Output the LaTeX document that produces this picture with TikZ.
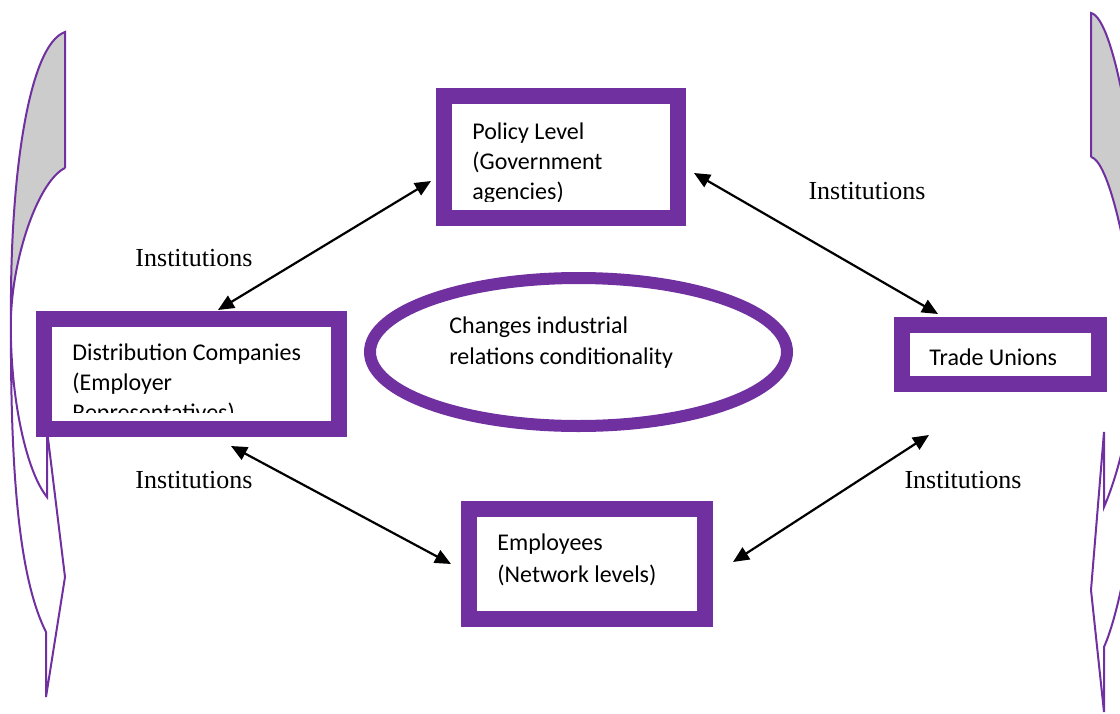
\documentclass[tikz,border=0pt]{standalone}
\usepackage{fontspec}
\setmainfont{Liberation Serif}
\newfontfamily\calfont{Carlito}
\usetikzlibrary{arrows.meta,shapes.geometric}
\definecolor{wpurple}{HTML}{7030A0}
\begin{document}
\begin{tikzpicture}[x=0.5pt,y=-0.5pt,
  box/.style={draw=wpurple, line width=8pt, fill=white, inner sep=0pt},
  lbl/.style={font=\fontsize{13}{15}\selectfont, inner sep=0pt},
  btxt/.style={font=\calfont\fontsize{12}{15}\selectfont, anchor=base west, inner sep=0pt},
  link/.style={line width=1.1pt, {Triangle[length=8pt,width=7pt]}-{Triangle[length=8pt,width=7pt]}},
  flow/.style={draw=wpurple, line width=1pt, line join=miter}
]
\useasboundingbox (0,0) rectangle (1120,713);
\clip (0,0) rectangle (1120,713);

% left curved arrow
\fill[gray!40] (65,32) .. controls (28,45) and (10,180) .. (11,315) .. controls (14,250) and (40,180) .. (65,168) -- cycle;
\draw[flow] (65,168) -- (65,32) .. controls (28,45) and (10,180) .. (11,315) .. controls (10,480) and (20,580) .. (46,632) -- (46,697) -- (65,577) -- (47,430) -- (47,497) .. controls (25,470) and (9,390) .. (11,315) .. controls (14,250) and (40,180) .. (65,168);

% right curved arrow
\fill[gray!40] (1091,13) .. controls (1115,18) and (1140,170) .. (1145,300) -- (1135,320) .. controls (1125,230) and (1106,160) .. (1091,157) -- cycle;
\draw[flow] (1091,157) -- (1091,13) .. controls (1115,18) and (1140,170) .. (1145,300) .. controls (1150,450) and (1125,600) .. (1104,647) -- (1104,712) -- (1091,590) -- (1104,432) -- (1104,507) .. controls (1120,470) and (1138,400) .. (1135,320) .. controls (1125,230) and (1106,160) .. (1091,157);

% boxes
\node[box, minimum width=117pt, minimum height=61pt] (pol) at (561,157) {};
\node[box, minimum width=147.5pt, minimum height=55pt] (dist) at (191.5,374) {};
\node[box, minimum width=98.5pt, minimum height=29.5pt] (tu) at (1000.5,354.5) {};
\node[box, minimum width=118pt, minimum height=55pt] (emp) at (587,564) {};
\node[draw=wpurple, line width=6pt, fill=white, ellipse, inner sep=0pt, minimum width=208.5pt, minimum height=74pt] (ell) at (578.5,352) {};

% texts
\begin{scope}
\clip (452,104) rectangle (670,201);
\node[btxt] (pt1) at (472,139) {Policy Level};
\node[btxt] (pt2) at (472,169) {(Government};
\node[btxt] (pt3) at (472,199) {agencies)};
\end{scope}
\begin{scope}
\clip (52,327) rectangle (331,412);
\node[btxt] (dt1) at (72,360) {Distribution Companies};
\node[btxt] (dt2) at (72,390) {(Employer};
\node[btxt] (dt3) at (72,420) {Representatives)};
\end{scope}
\node[btxt] (tt1) at (929,365) {Trade Unions};
\node[btxt] (et1) at (497,550) {Employees};
\node[btxt] (et2) at (497,582) {(Network levels)};
\node[btxt] (ct1) at (449,333) {Changes industrial};
\node[btxt] (ct2) at (449,364) {relations conditionality};

% links
\coordinate (l1a) at (431,181); \coordinate (l1b) at (218,310);
\coordinate (l2a) at (694,173); \coordinate (l2b) at (938,314);
\coordinate (l3a) at (231,446); \coordinate (l3b) at (451,564);
\coordinate (l4a) at (929,435); \coordinate (l4b) at (733,562);
\draw[link] (l1a) -- (l1b);
\draw[link] (l2a) -- (l2b);
\draw[link] (l3a) -- (l3b);
\draw[link] (l4a) -- (l4b);

% labels
\node[lbl] (i1) at (194,258) {Institutions};
\node[lbl] (i2) at (867,191) {Institutions};
\node[lbl] (i3) at (194,480) {Institutions};
\node[lbl] (i4) at (963,480) {Institutions};
\end{tikzpicture}
\end{document}
